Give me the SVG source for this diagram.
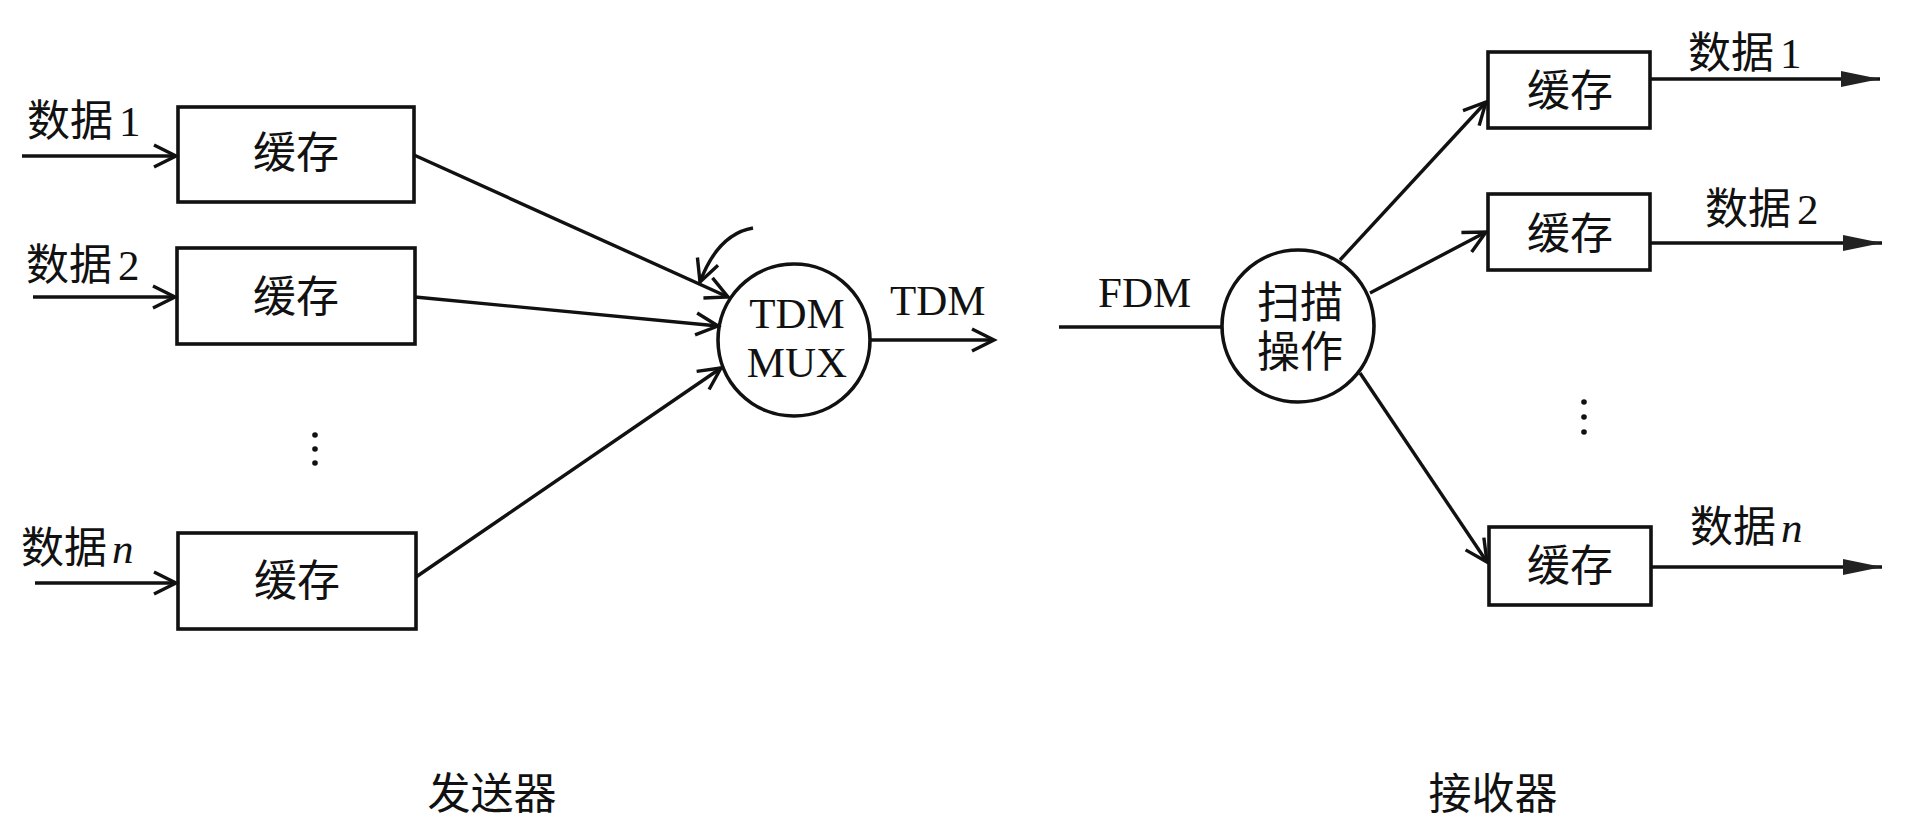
<svg xmlns="http://www.w3.org/2000/svg" width="1909" height="829" viewBox="0 0 1909 829">
<style>
text{font-family:"Liberation Serif","Noto Sans CJK SC",serif;font-size:43px;fill:#111}
.c{text-anchor:middle}
.box{fill:none;stroke:#111;stroke-width:3.6}
.node{fill:none;stroke:#111;stroke-width:3.6}
.ln{fill:none;stroke:#111;stroke-width:3.4}
.open{marker-end:url(#open)}
.fill{marker-end:url(#solid)}
</style>
<defs>
<marker id="open" markerUnits="userSpaceOnUse" viewBox="-28 -16 32 32" refX="0" refY="0" markerWidth="32" markerHeight="32" orient="auto">
<path d="M-22,-11 L0,0 L-22,11" fill="none" stroke="#111" stroke-width="3.4" stroke-linejoin="miter"/>
</marker>
<marker id="solid" markerUnits="userSpaceOnUse" viewBox="-42 -12 46 24" refX="0" refY="0" markerWidth="46" markerHeight="24" orient="auto">
<path d="M-39,-8 L0,0 L-39,8 Z" fill="#222"/>
</marker>
</defs>
<rect width="1909" height="829" fill="#fff"/>

<g id="connectors">
<line class="ln open" x1="22" y1="156" x2="176" y2="156"/>
<line class="ln open" x1="33" y1="297" x2="175" y2="297"/>
<line class="ln open" x1="35" y1="583" x2="176" y2="583"/>
<line class="ln open" x1="414" y1="155" x2="728" y2="297"/>
<line class="ln open" x1="415" y1="297" x2="718" y2="326"/>
<line class="ln open" x1="416" y1="577" x2="721" y2="368"/>
<path class="ln open" d="M753,228 Q718,234 700,282"/>
<line class="ln open" x1="870" y1="340" x2="994" y2="340"/>
<line class="ln" x1="1059" y1="327" x2="1222" y2="327"/>
<line class="ln open" x1="1340" y1="260" x2="1486" y2="102"/>
<line class="ln open" x1="1370" y1="293" x2="1486" y2="232"/>
<line class="ln open" x1="1360" y1="373" x2="1487" y2="562"/>
<line class="ln fill" x1="1650" y1="79" x2="1880" y2="79"/>
<line class="ln fill" x1="1650" y1="243" x2="1882" y2="243"/>
<line class="ln fill" x1="1651" y1="567" x2="1882" y2="567"/>
</g>

<g id="label-in1"><text x="27" y="136">数据<tspan dx="6">1</tspan></text></g>
<g id="label-in2"><text x="26" y="280">数据<tspan dx="6">2</tspan></text></g>
<g id="label-inn"><text x="21" y="563">数据<tspan dx="5" font-style="italic">n</tspan></text></g>

<g id="buf-tx1"><rect class="box" x="178" y="107" width="236" height="95"/><text class="c" x="296" y="168">缓存</text></g>
<g id="buf-tx2"><rect class="box" x="177" y="248" width="238" height="96"/><text class="c" x="296" y="312">缓存</text></g>
<g id="buf-txn"><rect class="box" x="178" y="533" width="238" height="96"/><text class="c" x="297" y="596">缓存</text></g>

<g id="dots-tx" fill="#111">
<circle cx="315" cy="435" r="2.8"/><circle cx="315" cy="449" r="2.8"/><circle cx="315" cy="463" r="2.8"/>
</g>

<g id="mux"><circle class="node" cx="794" cy="340" r="76"/>
<text class="c" x="797" y="328">TDM</text><text class="c" x="797" y="377">MUX</text></g>
<g id="label-tdm"><text x="890" y="315">TDM</text></g>
<g id="label-fdm"><text x="1098" y="307">FDM</text></g>

<g id="scan"><circle class="node" cx="1298" cy="326" r="76"/>
<text class="c" x="1300" y="318">扫描</text><text class="c" x="1300" y="367">操作</text></g>

<g id="buf-rx1"><rect class="box" x="1488" y="52" width="162" height="76"/><text class="c" x="1570" y="106">缓存</text></g>
<g id="buf-rx2"><rect class="box" x="1488" y="194" width="162" height="76"/><text class="c" x="1570" y="249">缓存</text></g>
<g id="buf-rxn"><rect class="box" x="1489" y="527" width="162" height="78"/><text class="c" x="1570" y="581">缓存</text></g>

<g id="dots-rx" fill="#111">
<circle cx="1584" cy="402" r="2.8"/><circle cx="1584" cy="417" r="2.8"/><circle cx="1584" cy="432" r="2.8"/>
</g>

<g id="label-out1"><text x="1688" y="68">数据<tspan dx="6">1</tspan></text></g>
<g id="label-out2"><text x="1705" y="224">数据<tspan dx="6">2</tspan></text></g>
<g id="label-outn"><text x="1690" y="542">数据<tspan dx="5" font-style="italic">n</tspan></text></g>

<g id="label-sender"><text class="c" x="492" y="809">发送器</text></g>
<g id="label-receiver"><text class="c" x="1493" y="809">接收器</text></g>
</svg>
